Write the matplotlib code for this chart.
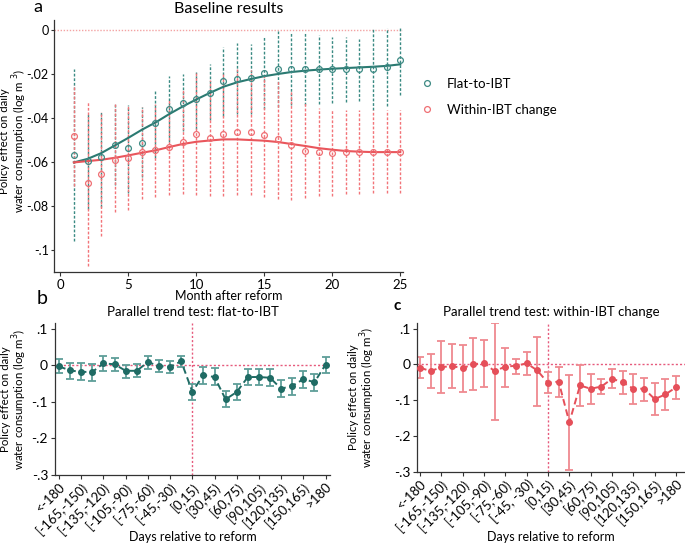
import matplotlib
matplotlib.use("Agg")
import matplotlib.pyplot as plt
from matplotlib.lines import Line2D
import numpy as np

plt.rcParams['font.family'] = ['Lato', 'DejaVu Sans']

# ---------------- Panel a data ----------------
months = list(range(1, 26))
flat_est = [-0.0567, -0.0595, -0.0578, -0.0521, -0.0537, -0.0512, -0.0424, -0.0357, -0.0329,
            -0.0314, -0.0284, -0.0233, -0.0221, -0.0219, -0.0196, -0.0177, -0.0174, -0.0177,
            -0.0178, -0.0178, -0.0178, -0.0178, -0.0175, -0.0169, -0.0137]
flat_lo = [-0.0959, -0.0815, -0.0805, -0.0707, -0.0740, -0.0670, -0.0580, -0.0510, -0.0460,
           -0.0450, -0.0410, -0.0390, -0.0380, -0.0380, -0.0360, -0.0350, -0.0340, -0.0341,
           -0.0338, -0.0329, -0.0326, -0.0323, -0.0364, -0.0344, -0.0293]
flat_hi = [-0.0174, -0.0375, -0.0372, -0.0334, -0.0340, -0.0349, -0.0273, -0.0209, -0.0197,
           -0.0189, -0.0154, -0.0075, -0.0059, -0.0062, -0.0032, -0.0003, -0.0009, -0.0014,
           -0.0021, -0.0029, -0.0029, -0.0040, 0.0009, 0.0009, 0.0009]
flat_fit = [-0.0602, -0.0586, -0.0560, -0.0525, -0.0490, -0.0453, -0.0420, -0.0382, -0.0347,
            -0.0315, -0.0285, -0.0257, -0.0237, -0.0222, -0.0209, -0.0199, -0.0190, -0.0184,
            -0.0179, -0.0175, -0.0172, -0.0169, -0.0166, -0.0162, -0.0155]

within_est = [-0.0480, -0.0697, -0.0657, -0.0593, -0.0581, -0.0556, -0.0547, -0.0532, -0.0508,
              -0.0471, -0.0490, -0.0474, -0.0463, -0.0463, -0.0477, -0.0495, -0.0524, -0.0550,
              -0.0556, -0.0559, -0.0555, -0.0555, -0.0555, -0.0555, -0.0555]
within_lo = [-0.0710, -0.1073, -0.0939, -0.0829, -0.0819, -0.0768, -0.0758, -0.0750, -0.0745,
             -0.0750, -0.0753, -0.0753, -0.0750, -0.0750, -0.0758, -0.0768, -0.0773, -0.0765,
             -0.0753, -0.0753, -0.0745, -0.0745, -0.0742, -0.0742, -0.0742]
within_hi = [-0.0250, -0.0323, -0.0370, -0.0334, -0.0341, -0.0349, -0.0336, -0.0314, -0.0271,
             -0.0190, -0.0227, -0.0195, -0.0178, -0.0180, -0.0198, -0.0225, -0.0275, -0.0330,
             -0.0356, -0.0364, -0.0364, -0.0364, -0.0364, -0.0364, -0.0364]
within_fit = [-0.0602, -0.0596, -0.0590, -0.0581, -0.0570, -0.0558, -0.0547, -0.0532, -0.0518,
              -0.0508, -0.0502, -0.0497, -0.0497, -0.0500, -0.0503, -0.0509, -0.0518, -0.0527,
              -0.0537, -0.0544, -0.0550, -0.0553, -0.0555, -0.0555, -0.0555]

# ---------------- Panels b/c data ----------------
day_bins = ['<-180', '[-180,-165)', '[-165,-150)', '[-150,-135)', '[-135,-120)', '[-120,-105)',
            '[-105,-90)', '[-90,-75)', '[-75,-60)', '[-60,-45)', '[-45,-30)', '[-30,-15)',
            '[0,15)', '[15,30)', '[30,45)', '[45,60)', '[60,75)', '[75,90)', '[90,105)',
            '[105,120)', '[120,135)', '[135,150)', '[150,165)', '[165,180)', '>180']
tick_labels_b = ['<-180', '[-165,-150)', '[-135,-120)', '[-105,-90)', '[-75,-60)', '[-45,-30)',
                 '[0,15)', '[30,45)', '[60,75)', '[90,105)', '[120,135)', '[150,165)', '>180']
tick_labels_c = ['<-180', '[-165,-150)', '[-135,-120)', '[-105,-90)', '[-75,-60)', '[-45, -30)',
                 '[0,15)', '[30,45)', '[60,75)', '[90,105)', '[120,135)', '[150,165)', '>180']

b_est = [-0.003, -0.014, -0.018, -0.018, 0.005, 0.003, -0.015, -0.015, 0.009, -0.002, -0.004,
         0.011, -0.072, -0.027, -0.032, -0.093, -0.073, -0.032, -0.032, -0.034, -0.064, -0.056,
         -0.038, -0.046, 0.002]
b_lo = [-0.021, -0.037, -0.041, -0.042, -0.016, -0.016, -0.035, -0.033, -0.009, -0.018, -0.020,
        -0.004, -0.094, -0.050, -0.055, -0.115, -0.095, -0.055, -0.055, -0.056, -0.087, -0.080,
        -0.061, -0.070, -0.020]
b_hi = [0.016, 0.006, 0.005, 0.004, 0.025, 0.021, 0.002, 0.004, 0.025, 0.014, 0.012,
        0.025, -0.052, -0.005, -0.008, -0.070, -0.051, -0.011, -0.010, -0.011, -0.041, -0.035,
        -0.015, -0.023, 0.022]

c_est = [-0.009, -0.019, -0.0075, -0.005, -0.010, 0.000, 0.004, -0.019, -0.006, -0.004, 0.003,
         -0.017, -0.052, -0.048, -0.162, -0.059, -0.068, -0.062, -0.040, -0.050, -0.068, -0.068,
         -0.097, -0.084, -0.064]
c_lo = [-0.037, -0.067, -0.080, -0.066, -0.078, -0.071, -0.062, -0.156, -0.062, -0.026, -0.031,
        -0.115, -0.081, -0.090, -0.296, -0.115, -0.112, -0.083, -0.067, -0.082, -0.112, -0.101,
        -0.141, -0.127, -0.096]
c_hi = [0.021, 0.029, 0.065, 0.058, 0.055, 0.074, 0.069, 0.117, 0.047, 0.016, 0.035,
        0.078, -0.022, -0.006, -0.029, -0.003, -0.026, -0.040, -0.012, -0.019, -0.027, -0.038,
        -0.052, -0.040, -0.033]

TEAL = '#2b7a72'
TEAL_CI = '#3a8a83'
RED = '#e9565c'
RED_CI = '#f27479'
B_PT = '#1f6b64'
B_ERR = '#5e9e98'
C_PT = '#e54f59'
C_ERR = '#ef8990'
REFLINE = '#e65a7c'

fig = plt.figure(figsize=(6.85, 5.47), dpi=100)

# ---------------- Panel a ----------------
axa = fig.add_axes([0.0793, 0.5033, 0.5090, 0.4601])
axa.axhline(0, color='#f3a3a3', lw=1.0, ls=(0, (1, 1.2)), zorder=1)
axa.vlines(months, flat_lo, flat_hi, colors=TEAL_CI, lw=1.0, linestyles=(0, (2, 1.3)), zorder=2)
axa.vlines(months, within_lo, within_hi, colors=RED_CI, lw=1.0, linestyles=(0, (2, 1.3)), zorder=2)
axa.plot(months, flat_fit, color=TEAL, lw=1.5, zorder=4)
axa.plot(months, within_fit, color=RED, lw=1.5, zorder=4)
axa.plot(months, flat_est, ls='none', marker='o', ms=4.2, mfc='none', mec='#3e8a84', mew=0.9, zorder=5)
axa.plot(months, within_est, ls='none', marker='o', ms=4.2, mfc='none', mec='#ef6f74', mew=0.9, zorder=5)
axa.set_xlim(-0.44, 25.2)
axa.set_ylim(-0.110, 0.0047)
axa.set_xticks([0, 5, 10, 15, 20, 25])
axa.set_yticks([0, -0.02, -0.04, -0.06, -0.08, -0.1])
axa.set_yticklabels(['0', '-.02', '-.04', '-.06', '-.08', '-.1'])
axa.set_title('Baseline results', fontsize=11.5, pad=5)
axa.set_xlabel('Month after reform', fontsize=9)
axa.xaxis.set_label_coords(0.50, -0.072)
axa.set_ylabel('Policy effect on daily\nwater consumption (log m $^{3}$)', fontsize=8.3,
               linespacing=1.0)
axa.yaxis.set_label_coords(-0.074, 0.52)
handles = [Line2D([], [], ls='none', marker='o', ms=4.2, mfc='none', mec='#3e8a84', mew=0.9),
           Line2D([], [], ls='none', marker='o', ms=4.2, mfc='none', mec='#ef6f74', mew=0.9)]
fig.legend(handles, ['Flat-to-IBT', 'Within-IBT change'], loc='upper left',
           bbox_to_anchor=(0.596, 0.880), frameon=False, fontsize=9.5, handlelength=1.0,
           handletextpad=1.0, labelspacing=1.1)

# ---------------- Panel b ----------------
xb = np.arange(len(day_bins))
axb = fig.add_axes([0.0803, 0.1316, 0.4015, 0.2774])
axb.axhline(0, color=REFLINE, lw=1.0, ls=(0, (1.5, 1.5)), zorder=1)
axb.axvline(12, color=REFLINE, lw=1.0, ls=(0, (1.5, 1.5)), zorder=1)
b_err = [np.array(b_est) - np.array(b_lo), np.array(b_hi) - np.array(b_est)]
axb.errorbar(xb, b_est, yerr=b_err, fmt='none', ecolor=B_ERR, elinewidth=1.3, capsize=3.2,
             capthick=1.3, zorder=2)
axb.plot(xb, b_est, color=B_PT, lw=1.4, ls=(0, (3.5, 2)), marker='o', ms=4, zorder=3)
axb.set_xlim(-0.36, 24.4)
axb.set_ylim(-0.3, 0.115)
axb.set_xticks(xb[::2])
axb.set_xticklabels(tick_labels_b, rotation=45, ha='right', rotation_mode='anchor')
axb.set_yticks([0.1, 0, -0.1, -0.2, -0.3])
axb.set_yticklabels(['.1', '0', '-.1', '-.2', '-.3'])
axb.set_title('Parallel trend test: flat-to-IBT', fontsize=9.5, pad=5)
axb.set_xlabel('Days relative to reform', fontsize=9)
axb.xaxis.set_label_coords(0.50, -0.37)
axb.set_ylabel('Policy effect on daily\nwater consumption (log m$^{3}$)', fontsize=8.3,
               linespacing=1.0)
axb.yaxis.set_label_coords(-0.093, 0.50)

# ---------------- Panel c ----------------
axc = fig.add_axes([0.6092, 0.1377, 0.3908, 0.2713])
axc.axhline(0, color=REFLINE, lw=1.0, ls=(0, (1.5, 1.5)), zorder=1)
axc.axvline(12, color=REFLINE, lw=1.0, ls=(0, (1.5, 1.5)), zorder=1)
c_err = [np.array(c_est) - np.array(c_lo), np.array(c_hi) - np.array(c_est)]
axc.errorbar(xb, c_est, yerr=c_err, fmt='none', ecolor=C_ERR, elinewidth=1.3, capsize=3.2,
             capthick=1.3, zorder=2)
axc.plot(xb, c_est, color=C_PT, lw=1.4, ls=(0, (3.5, 2)), marker='o', ms=4, zorder=3)
axc.set_xlim(-0.25, 24.84)
axc.set_ylim(-0.3, 0.115)
axc.set_xticks(xb[::2])
axc.set_xticklabels(tick_labels_c, rotation=45, ha='right', rotation_mode='anchor')
axc.set_yticks([0.1, 0, -0.1, -0.2, -0.3])
axc.set_yticklabels(['.1', '0', '-.1', '-.2', '-.3'])
axc.set_title('Parallel trend test: within-IBT change', fontsize=9.5, pad=5)
axc.set_xlabel('Days relative to reform', fontsize=9)
axc.xaxis.set_label_coords(0.50, -0.40)
axc.set_ylabel('Policy effect on daily\nwater consumption (log m$^{3}$)', fontsize=8.3,
               linespacing=1.0)
axc.yaxis.set_label_coords(-0.15, 0.50)

for ax in (axa, axb, axc):
    for s in ('top', 'right'):
        ax.spines[s].set_visible(False)
    for s in ('left', 'bottom'):
        ax.spines[s].set_color('#333333')
        ax.spines[s].set_linewidth(0.9)
    ax.tick_params(axis='both', direction='out', length=3, width=0.8, color='#333333',
                   labelsize=9.5, pad=2)
axa.tick_params(axis='y', labelsize=9, length=2.5, pad=1.5)
axb.tick_params(axis='x', labelsize=9.5, pad=1)
axc.tick_params(axis='x', labelsize=9.5, pad=1)
axb.tick_params(axis='y', labelsize=10)
axc.tick_params(axis='y', labelsize=10)

fig.text(38 / 685, 1 - 7 / 547, 'a', fontsize=13, ha='center', va='center')
fig.text(42 / 685, 1 - 298 / 547, 'b', fontsize=14, ha='center', va='center')
fig.text(397 / 685, 1 - 306 / 547, 'c', fontsize=11, ha='center', va='center', fontweight='bold')

fig.savefig('out.png', dpi=100)
